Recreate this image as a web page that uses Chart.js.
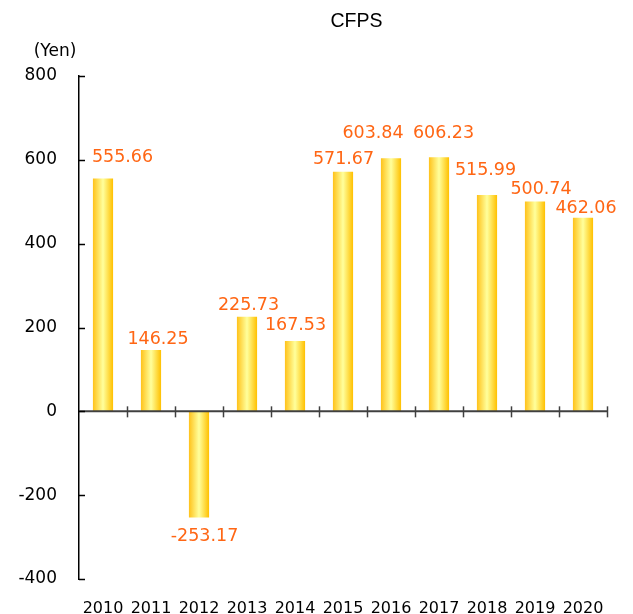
<!DOCTYPE html>
<html>
<head>
<meta charset="utf-8">
<script src="https://cdn.jsdelivr.net/npm/chart.js@4"></script>
<style>
  html, body { margin: 0; padding: 0; background: #fff; }
  #wrap { width: 633px; height: 614px; }
</style>
</head>
<body>
<div id="wrap"><canvas id="cfpsChart" width="633" height="614"></canvas></div>
<script>
const years = ['2010', '2011', '2012', '2013', '2014', '2015', '2016', '2017', '2018', '2019', '2020'];
const cfps = [555.66, 146.25, -253.17, 225.73, 167.53, 571.67, 603.84, 606.23, 515.99, 500.74, 462.06];
const yTicks = [-400, -200, 0, 200, 400, 600, 800];

// label nudges (px) relative to the bar end, like the original layout
const labelDx = [19.5, 7, 5.5, 1.5, 0.5, 0.5, -18, 4.5, -1.5, 6, 3];
const labelDy = [-21, -11, 19, -11, -15.5, -12, -25, -24, -25, -12, -9];

const barPct = 0.42;

function barFill(context) {
    const chart = context.chart;
    const area = chart.chartArea;
    if (!area) return '#FFD633';
    const x = chart.scales.x.getPixelForValue(context.dataIndex);
    const w = (area.width / years.length) * barPct;
    const g = chart.ctx.createLinearGradient(x - w / 2, 0, x + w / 2, 0);
    g.addColorStop(0, '#FFC21A');
    g.addColorStop(0.5, '#FFFF9C');
    g.addColorStop(1, '#FFC000');
    return g;
}

const extras = {
    id: 'extras',
    afterDatasetsDraw(chart) {
        const c = chart.ctx;
        const area = chart.chartArea;
        const xs = chart.scales.x;
        const ys = chart.scales.y;
        const y0 = ys.getPixelForValue(0);
        c.save();

        // zero line with category ticks
        c.strokeStyle = '#404040';
        c.lineWidth = 2;
        c.beginPath();
        c.moveTo(area.left, y0);
        c.lineTo(area.right, y0);
        c.stroke();
        const step = area.width / years.length;
        c.lineWidth = 1.5;
        for (let i = 1; i <= years.length; i++) {
            const x = Math.round(area.left + i * step) + 0.5;
            c.beginPath();
            c.moveTo(x, y0 - 5);
            c.lineTo(x, y0 + 6);
            c.stroke();
        }

        // inward y ticks
        c.strokeStyle = '#000';
        c.lineWidth = 1.5;
        yTicks.forEach(v => {
            const y = Math.round(ys.getPixelForValue(v)) + 0.5;
            c.beginPath();
            c.moveTo(area.left, y);
            c.lineTo(area.left + 6, y);
            c.stroke();
        });

        // value labels
        c.fillStyle = '#FF6614';
        c.font = '17.5px "DejaVu Sans"';
        c.textAlign = 'center';
        c.textBaseline = 'middle';
        chart.getDatasetMeta(0).data.forEach((bar, i) => {
            c.fillText(cfps[i].toFixed(2), bar.x + labelDx[i], bar.y + labelDy[i]);
        });

        // title and unit
        c.fillStyle = '#000';
        c.font = '19.5px "Liberation Sans"';
        c.fillText('CFPS', 356.5, 22);
        c.font = '17px "DejaVu Sans"';
        c.fillText('(Yen)', 55, 51.5);
        c.restore();
    }
};

new Chart(document.getElementById('cfpsChart'), {
    type: 'bar',
    data: {
        labels: years,
        datasets: [{
            label: 'CFPS',
            data: cfps,
            backgroundColor: barFill,
            borderWidth: 0,
            barPercentage: barPct,
            categoryPercentage: 1
        }]
    },
    options: {
        responsive: false,
        animation: false,
        layout: { padding: { top: 76, right: 26, left: 0, bottom: 0 } },
        plugins: {
            legend: { display: false },
            title: { display: false },
            tooltip: { enabled: false }
        },
        scales: {
            x: {
                grid: { display: false, drawTicks: false },
                border: { display: false },
                ticks: {
                    color: '#000',
                    padding: 20,
                    font: { family: 'DejaVu Sans', size: 16 },
                    maxRotation: 0
                },
                afterFit(scale) { scale.height = 35; }
            },
            y: {
                min: -400,
                max: 800,
                grid: { display: false, drawTicks: false },
                border: { display: true, color: '#000', width: 1.5 },
                ticks: {
                    stepSize: 200,
                    color: '#000',
                    padding: 22,
                    font: { family: 'DejaVu Sans', size: 17 }
                },
                afterFit(scale) { scale.width = 79; }
            }
        }
    },
    plugins: [extras]
});
</script>
</body>
</html>
